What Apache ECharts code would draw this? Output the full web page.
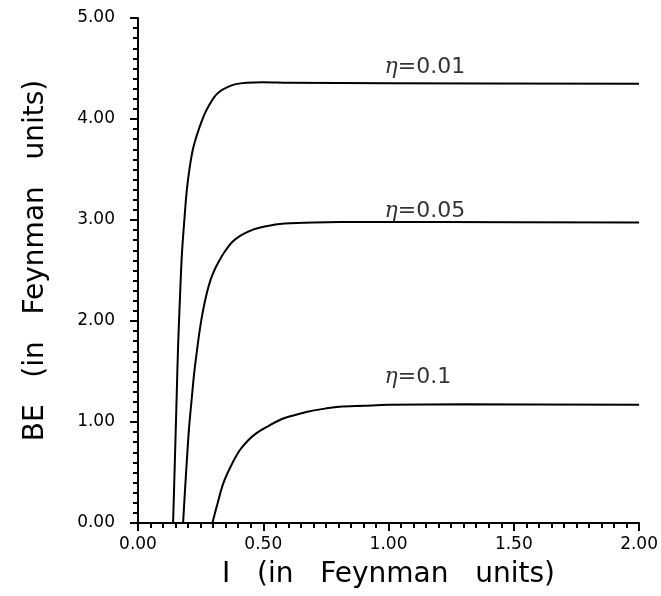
<!DOCTYPE html>
<html>
<head>
<meta charset="utf-8">
<script src="https://cdn.jsdelivr.net/npm/echarts@6/dist/echarts.min.js"></script>
<style>
  html, body { margin: 0; padding: 0; background: #fff; }
  #chart { width: 661px; height: 596px; }
</style>
</head>
<body>
<div id="chart"></div>
<script>
// curve points: [I, BE]
var eta001 = [
  [0.140, 0], [0.147, 0.6], [0.154, 1.22], [0.160, 1.75], [0.167, 2.2],
  [0.175, 2.65], [0.185, 3.0], [0.195, 3.3], [0.207, 3.53], [0.220, 3.71],
  [0.235, 3.84], [0.250, 3.95], [0.268, 4.06], [0.287, 4.15], [0.305, 4.22],
  [0.325, 4.27], [0.353, 4.31], [0.390, 4.345], [0.433, 4.36], [0.50, 4.365],
  [0.60, 4.36], [1.0, 4.355], [2.0, 4.35]
];
var eta005 = [
  [0.180, 0], [0.187, 0.3], [0.195, 0.62], [0.204, 0.95], [0.214, 1.22],
  [0.224, 1.48], [0.235, 1.7], [0.247, 1.92], [0.260, 2.11], [0.275, 2.28],
  [0.290, 2.41], [0.308, 2.52], [0.327, 2.61], [0.350, 2.70], [0.375, 2.78],
  [0.406, 2.84], [0.440, 2.885], [0.480, 2.92], [0.566, 2.96], [0.70, 2.975],
  [0.805, 2.98], [1.2, 2.98], [2.0, 2.975]
];
var eta01 = [
  [0.297, 0], [0.315, 0.17], [0.340, 0.39], [0.370, 0.56], [0.406, 0.72],
  [0.440, 0.82], [0.473, 0.89], [0.520, 0.96], [0.566, 1.02], [0.620, 1.065],
  [0.672, 1.10], [0.740, 1.13], [0.805, 1.15], [0.90, 1.16], [1.0, 1.17],
  [1.3, 1.175], [2.0, 1.17]
];
// curve labels: name and anchor (left edge, middle)
var labelNames = ['0.01', '0.05', '0.1'];
var labelPos = [[0.984, 4.51], [0.984, 3.09], [0.984, 1.44]];

var font = 'DejaVu Sans';
var myChart = echarts.init(document.getElementById('chart'));

function curve(name, data) {
  return {
    name: name,
    type: 'line',
    data: data,
    smooth: 0.35,
    showSymbol: false,
    silent: true,
    lineStyle: { color: '#000', width: 2 }
  };
}

var option = {
  animation: false,
  backgroundColor: '#fff',
  grid: { left: 138, top: 18, width: 502, height: 505, containLabel: false },
  xAxis: {
    type: 'value', min: 0, max: 2, interval: 0.5,
    name: 'I   (in   Feynman   units)',
    nameLocation: 'middle', nameGap: 38,
    nameTextStyle: { fontFamily: font, fontSize: 28, color: '#000' },
    axisLine: { lineStyle: { color: '#000', width: 2 } },
    axisTick: { length: 8, lineStyle: { color: '#000', width: 2 } },
    minorTick: { show: true, splitNumber: 10, length: 5, lineStyle: { color: '#000', width: 2 } },
    splitLine: { show: false },
    axisLabel: { fontFamily: font, fontSize: 17, color: '#000', margin: 13,
      formatter: function (v) { return v.toFixed(2); } }
  },
  yAxis: {
    type: 'value', min: 0, max: 5, interval: 1,
    name: 'BE   (in   Feynman   units)',
    nameLocation: 'middle', nameGap: 88,
    nameTextStyle: { fontFamily: font, fontSize: 28, color: '#000', padding: [0, 0, 0, 20] },
    axisLine: { lineStyle: { color: '#000', width: 2 } },
    axisTick: { length: 8, lineStyle: { color: '#000', width: 2 } },
    minorTick: { show: true, splitNumber: 10, length: 5, lineStyle: { color: '#000', width: 2 } },
    splitLine: { show: false },
    axisLabel: { fontFamily: font, fontSize: 17, color: '#000', margin: 23,
      formatter: function (v) { return v.toFixed(2); } }
  },
  series: [
    curve('0.01', eta001),
    curve('0.05', eta005),
    curve('0.1', eta01),
    {
      type: 'scatter',
      silent: true,
      symbolSize: 0,
      data: labelPos.map(function (p, i) { return { value: p, name: labelNames[i] }; }),
      label: {
        show: true, position: 'right', distance: 0, color: '#000',
        formatter: function (p) { return '{e|η}{t|=' + p.name + '}'; },
        rich: {
          e: { fontFamily: 'DejaVu Serif', fontStyle: 'italic', fontSize: 22, color: '#000' },
          t: { fontFamily: font, fontSize: 22, color: '#000' }
        }
      }
    }
  ]
};
myChart.setOption(option);
</script>
</body>
</html>
